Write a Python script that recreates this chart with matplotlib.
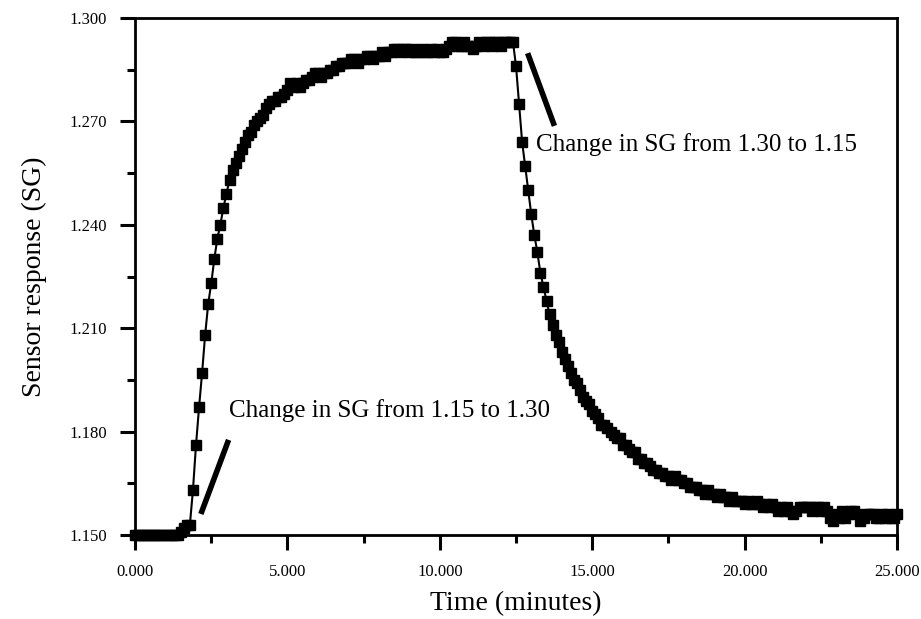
import matplotlib
matplotlib.use("Agg")
import matplotlib.pyplot as plt
from matplotlib.ticker import FixedLocator, FormatStrFormatter

plt.rcParams['font.family'] = ['Liberation Serif', 'DejaVu Serif']

# sensor logged every 0.1 min
sample_step = 0.1

sg_response = [
    # 0.0 - 1.9
    1.150, 1.150, 1.150, 1.150, 1.150, 1.150, 1.150, 1.150, 1.150, 1.150,
    1.150, 1.150, 1.150, 1.150, 1.150, 1.151, 1.152, 1.153, 1.153, 1.163,
    # 2.0 - 3.9
    1.176, 1.187, 1.197, 1.208, 1.217, 1.223, 1.230, 1.236, 1.240, 1.245,
    1.249, 1.253, 1.256, 1.258, 1.260, 1.262, 1.264, 1.266, 1.267, 1.269,
    # 4.0 - 5.9
    1.270, 1.271, 1.272, 1.274, 1.275, 1.276, 1.276, 1.277, 1.277, 1.278,
    1.279, 1.281, 1.280, 1.281, 1.280, 1.281, 1.282, 1.282, 1.283, 1.284,
    # 6.0 - 7.9
    1.284, 1.283, 1.284, 1.284, 1.285, 1.285, 1.286, 1.286, 1.287, 1.287,
    1.287, 1.288, 1.288, 1.287, 1.288, 1.288, 1.289, 1.289, 1.288, 1.289,
    # 8.0 - 9.9
    1.289, 1.290, 1.289, 1.290, 1.290, 1.291, 1.291, 1.290, 1.291, 1.291,
    1.290, 1.291, 1.290, 1.290, 1.291, 1.290, 1.290, 1.291, 1.290, 1.291,
    # 10.0 - 11.9
    1.290, 1.290, 1.291, 1.292, 1.293, 1.293, 1.292, 1.292, 1.293, 1.292,
    1.292, 1.291, 1.292, 1.293, 1.292, 1.293, 1.293, 1.292, 1.293, 1.293,
    # 12.0 - 13.9
    1.292, 1.293, 1.293, 1.293, 1.293, 1.286, 1.275, 1.264, 1.257, 1.250,
    1.243, 1.237, 1.232, 1.226, 1.222, 1.218, 1.214, 1.211, 1.208, 1.206,
    # 14.0 - 15.9
    1.203, 1.201, 1.199, 1.197, 1.195, 1.194, 1.192, 1.190, 1.189, 1.188,
    1.186, 1.185, 1.184, 1.182, 1.182, 1.181, 1.180, 1.179, 1.178, 1.178,
    # 16.0 - 17.9
    1.176, 1.176, 1.175, 1.174, 1.174, 1.172, 1.172, 1.171, 1.171, 1.170,
    1.169, 1.169, 1.168, 1.168, 1.167, 1.167, 1.166, 1.167, 1.166, 1.166,
    # 18.0 - 19.9
    1.165, 1.165, 1.164, 1.164, 1.164, 1.163, 1.163, 1.162, 1.163, 1.162,
    1.162, 1.161, 1.162, 1.161, 1.161, 1.160, 1.161, 1.160, 1.160, 1.160,
    # 20.0 - 21.9
    1.159, 1.160, 1.159, 1.159, 1.160, 1.159, 1.158, 1.159, 1.158, 1.159,
    1.158, 1.157, 1.158, 1.157, 1.158, 1.157, 1.156, 1.157, 1.158, 1.158,
    # 22.0 - 23.9
    1.158, 1.158, 1.157, 1.158, 1.158, 1.157, 1.158, 1.157, 1.155, 1.154,
    1.156, 1.155, 1.157, 1.155, 1.156, 1.157, 1.157, 1.156, 1.154, 1.155,
    # 24.0 - 25.0
    1.156, 1.156, 1.156, 1.155, 1.155, 1.156, 1.155, 1.156, 1.155, 1.155,
    1.156,
]
time_min = [round(i * sample_step, 1) for i in range(len(sg_response))]

x_major = [0, 5, 10, 15, 20, 25]
x_minor = [2.5, 7.5, 12.5, 17.5, 22.5]
y_major = [1.150, 1.180, 1.210, 1.240, 1.270, 1.300]
y_minor = [1.165, 1.195, 1.225, 1.255, 1.285]

# annotation slashes and their labels
rise_slash_x = [2.16, 3.07]
rise_slash_y = [1.1561, 1.1776]
fall_slash_x = [12.88, 13.76]
fall_slash_y = [1.2898, 1.2687]
rise_label = "Change in SG from 1.15 to 1.30"
fall_label = "Change in SG from 1.30 to 1.15"

fig = plt.figure(figsize=(9.21, 6.19), dpi=100)
ax = fig.add_axes([0.1466, 0.1357, 0.8274, 0.8352])

ax.plot(time_min, sg_response, color="black", lw=1.5, marker="s",
        markersize=7, clip_on=False, zorder=3)

ax.plot(rise_slash_x, rise_slash_y, color="black", lw=4, solid_capstyle="butt")
ax.plot(fall_slash_x, fall_slash_y, color="black", lw=4, solid_capstyle="butt")
ax.text(3.07, 1.186, rise_label, fontsize=18, va="center", ha="left")
ax.text(13.17, 1.2632, fall_label, fontsize=18, va="center", ha="left")

ax.set_xlim(0, 25)
ax.set_ylim(1.150, 1.300)
ax.xaxis.set_major_locator(FixedLocator(x_major))
ax.xaxis.set_minor_locator(FixedLocator(x_minor))
ax.yaxis.set_major_locator(FixedLocator(y_major))
ax.yaxis.set_minor_locator(FixedLocator(y_minor))
ax.xaxis.set_major_formatter(FormatStrFormatter("%.3f"))
ax.yaxis.set_major_formatter(FormatStrFormatter("%.3f"))

for side in ax.spines.values():
    side.set_linewidth(2)
ax.tick_params(which="major", direction="out", length=11, width=2.2, labelsize=12)
ax.tick_params(which="minor", direction="out", length=6, width=2.2)
ax.tick_params(axis="x", which="major", pad=10)
ax.tick_params(axis="y", which="major", pad=9)

ax.set_xlabel("Time (minutes)", fontsize=20, labelpad=8)
ax.set_ylabel("Sensor response (SG)", fontsize=20, labelpad=16)

fig.savefig("out.png", dpi=100)
